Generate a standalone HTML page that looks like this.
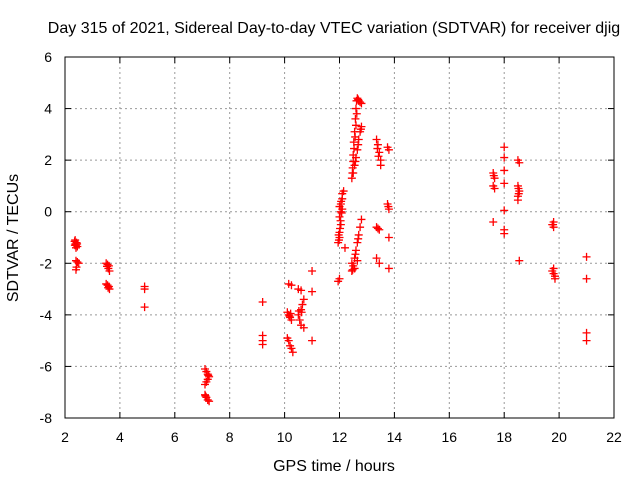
<!DOCTYPE html>
<html><head><meta charset="utf-8"><style>
body{margin:0;background:#fff}
svg{display:block;font-family:"Liberation Sans",sans-serif}
</style></head><body>
<svg id="chart" width="640" height="480">
<text x="334" y="33" font-size="16" text-anchor="middle">Day 315 of 2021, Sidereal Day-to-day VTEC variation (SDTVAR) for receiver djig</text>
<text x="334" y="471" font-size="16" text-anchor="middle">GPS time / hours</text>
<text transform="translate(18,238) rotate(-90)" font-size="16" text-anchor="middle">SDTVAR / TECUs</text>
<g id="grid"></g><g id="ticks"></g><g id="pts"></g>
<rect x="65" y="57" width="549" height="361" fill="none" stroke="#000" stroke-width="1"/>
</svg>
<script>
const xTicks=[2,4,6,8,10,12,14,16,18,20,22];
const yTicks=[-8,-6,-4,-2,0,2,4,6];
const xs=[2.35,2.38,2.4,2.42,2.45,2.4,2.37,2.4,2.45,2.5,2.42,2.4,2.44,2.36,
3.5,3.55,3.6,3.58,3.62,3.5,3.55,3.6,3.62,3.57,3.53,
4.9,4.9,4.9,
7.1,7.15,7.2,7.25,7.2,7.15,7.1,7.1,7.15,7.2,7.25,7.22,7.12,
9.2,9.2,9.2,9.2,
10.15,10.25,10.1,10.15,10.2,10.25,10.1,10.15,10.2,10.25,10.3,10.18,10.22,
10.5,10.6,10.7,10.65,10.6,10.5,10.55,10.6,10.7,10.62,10.52,
11.0,11.0,11.0,
11.95,12.0,11.95,12.0,12.0,12.05,12.0,12.05,12.1,12.05,12.1,12.1,12.15,12.2,11.98,12.02,12.04,12.08,12.0,11.97,12.06,
12.45,12.48,12.5,12.52,12.55,12.58,12.6,12.62,12.65,12.7,12.8,12.47,12.5,12.53,12.57,12.6,12.63,12.68,12.75,
12.5,12.55,12.6,12.65,12.7,12.75,12.8,12.58,12.68,12.78,
12.45,12.5,12.55,12.6,12.65,12.7,12.75,12.8,12.45,12.55,12.65,12.48,12.58,12.68,
13.35,13.4,13.45,13.5,13.5,13.35,13.45,13.35,13.45,13.38,13.42,13.4,
13.75,13.8,13.75,13.8,13.8,13.8,13.78,
17.6,17.65,17.6,17.65,17.6,17.62,
18.0,18.0,18.0,18.0,18.0,18.0,18.0,
18.5,18.55,18.5,18.55,18.5,18.5,18.55,18.52,18.53,
19.8,19.75,19.8,19.8,19.75,19.8,19.85,19.85,19.78,
21.0,21.0,21.0,21.0];
const ys=[-1.15,-1.25,-1.3,-1.2,-1.35,-1.4,-1.1,-1.9,-1.95,-2.0,-2.15,-2.25,-1.25,-1.3,
-2.0,-2.05,-2.1,-2.2,-2.3,-2.8,-2.85,-2.9,-3.0,-2.95,-2.12,
-2.9,-3.0,-3.7,
-6.1,-6.2,-6.3,-6.4,-6.5,-6.6,-6.7,-7.1,-7.2,-7.3,-7.35,-6.35,-7.15,
-3.5,-4.8,-5.0,-5.15,
-2.8,-2.85,-3.9,-4.0,-4.1,-4.2,-4.9,-5.0,-5.2,-5.3,-5.45,-4.05,-3.95,
-3.0,-3.05,-3.4,-3.6,-3.8,-4.0,-4.2,-4.4,-4.5,-3.9,-3.85,
-2.3,-3.1,-5.0,
-2.7,-2.6,-1.2,-1.0,-0.8,-0.5,-0.2,0.0,0.1,0.3,0.5,0.7,0.8,-1.4,-1.1,-0.65,-0.35,-0.05,0.2,-0.9,0.4,
1.3,1.7,2.2,2.7,3.1,3.6,4.0,4.3,4.4,4.3,4.2,1.5,1.95,2.45,2.9,3.35,3.8,4.35,4.25,
1.5,1.8,2.1,2.4,2.8,3.1,3.3,1.95,2.6,3.2,
-2.3,-2.1,-1.8,-1.5,-1.2,-0.9,-0.6,-0.3,-2.0,-2.2,-1.9,-2.25,-1.65,-1.05,
2.8,2.6,2.3,2.0,1.8,-0.6,-0.7,-1.8,-2.0,2.45,2.15,-0.65,
2.5,2.4,0.3,0.1,-1.0,-2.2,0.2,
1.5,1.3,1.0,0.9,-0.4,1.4,
2.5,2.1,1.6,1.1,0.05,-0.7,-0.85,
2.0,1.9,1.0,0.8,0.6,0.45,-1.9,0.9,0.7,
-0.4,-0.5,-0.6,-2.2,-2.3,-2.4,-2.5,-2.6,-0.5,
-1.75,-2.6,-4.7,-5.0];
const X=v=>65+(v-2)*549/20, Y=v=>418-(v+8)*361/14;
const NS="http://www.w3.org/2000/svg";
const g=document.getElementById('grid'),t=document.getElementById('ticks'),p=document.getElementById('pts');
function mk(tag,attrs,parent){const e=document.createElementNS(NS,tag);for(const k in attrs)e.setAttribute(k,attrs[k]);parent.appendChild(e);return e;}
xTicks.forEach(v=>{const x=X(v);
 if(v>2&&v<22){const l=mk('line',{x1:x,x2:x,y1:57,y2:418,stroke:'#999','stroke-dasharray':'2,3'},g);
 
 }
 mk('line',{x1:x,x2:x,y1:418,y2:412,stroke:'#000'},t);mk('line',{x1:x,x2:x,y1:57,y2:63,stroke:'#000'},t);
 const tx=mk('text',{x:x,y:442,'font-size':14,'text-anchor':'middle'},t);tx.textContent=v;
 
 });
yTicks.forEach(v=>{const y=Y(v);
 if(v>-8&&v<6){const l=mk('line',{x1:65,x2:614,y1:y,y2:y,stroke:'#999','stroke-dasharray':'2,3'},g);
 
 }
 mk('line',{x1:65,x2:71,y1:y,y2:y,stroke:'#000'},t);mk('line',{x1:614,x2:608,y1:y,y2:y,stroke:'#000'},t);
 const tx=mk('text',{x:52,y:y+5,'font-size':14,'text-anchor':'end'},t);tx.textContent=v;
 
 });
xs.forEach((xv,i)=>{const x=X(xv),y=Y(ys[i]);
 const m=mk('path',{d:`M${x-4},${y}H${x+4}M${x},${y-4}V${y+4}`,stroke:'#f00','stroke-width':1.3,fill:'none'},p);
 
 });
</script>
</body></html>
